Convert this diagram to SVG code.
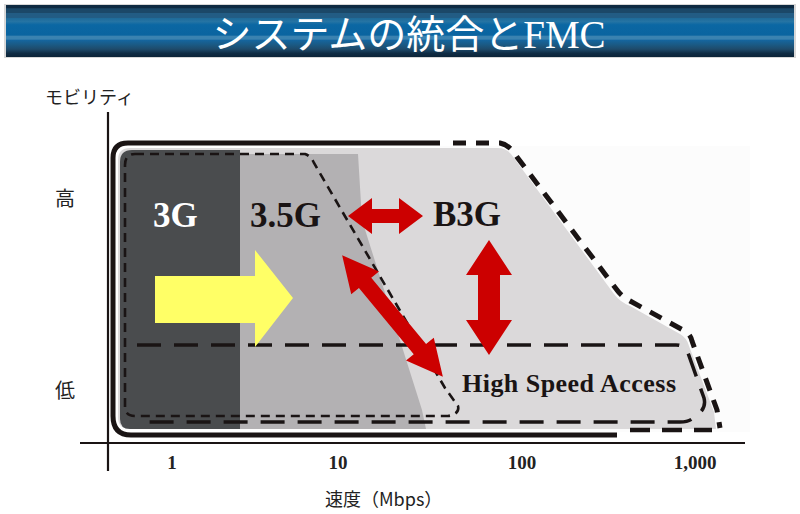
<svg xmlns="http://www.w3.org/2000/svg" width="800" height="514" viewBox="0 0 800 514">
<defs>
<linearGradient id="bar" x1="0" y1="0" x2="0" y2="1">
<stop offset="0" stop-color="#0e2a42"/>
<stop offset="0.06" stop-color="#0e2a42"/>
<stop offset="0.07" stop-color="#1b4868"/>
<stop offset="0.15" stop-color="#1b4868"/>
<stop offset="0.16" stop-color="#225c84"/>
<stop offset="0.24" stop-color="#225c84"/>
<stop offset="0.25" stop-color="#1e6a98"/>
<stop offset="0.32" stop-color="#2574a4"/>
<stop offset="0.38" stop-color="#0b67a3"/>
<stop offset="0.58" stop-color="#0a64a0"/>
<stop offset="0.6" stop-color="#3a82b0"/>
<stop offset="0.66" stop-color="#3a82b0"/>
<stop offset="0.67" stop-color="#1566a0"/>
<stop offset="0.76" stop-color="#1a5a85"/>
<stop offset="0.85" stop-color="#1e4a6a"/>
<stop offset="0.93" stop-color="#0f2c44"/>
<stop offset="1" stop-color="#0c2438"/>
</linearGradient>
</defs>
<style>
.lbl{font-family:"Liberation Serif","Times New Roman",serif;font-weight:bold}
.jp{font-family:"Noto Sans CJK JP",sans-serif;fill:#222}
.tick{font-family:"Liberation Serif",serif;font-weight:bold;font-size:19px;fill:#222;text-anchor:middle}
.red{fill:#cc0000}
.ax{stroke:#1a1414;stroke-width:2.2;fill:none}
</style>
<rect width="800" height="514" fill="#ffffff"/>
<g id="title">
<rect x="4" y="4" width="792" height="54" fill="#d8d8d8"/>
<rect x="6" y="5" width="788" height="52" fill="url(#bar)"/>
<text x="409" y="48" font-family="Liberation Serif,Noto Sans CJK JP,serif" font-size="39" fill="#ffffff" text-anchor="middle">システムの統合とFMC</text>
</g>
<g id="background">
<rect x="440" y="146" width="310" height="286" fill="#fcfcfc"/>
<path id="b3g-area" d="M118,160 Q118,148 130,148 L498,148 Q508,148 514,158 L614,294 Q620,302 630,306 L680,334 Q687,338 689,346 L714,412 L716,429 L130,429 Q118,429 118,417 Z" fill="#dbd9da"/>
<path id="g35-area" d="M240,154 L358,154 L362,220 L422,410 L426,429 L240,429 Z" fill="#b3b1b3"/>
<path id="g3-area" d="M132,150 L240,150 L240,429 L130,429 Q120,429 120,419 L120,162 Q120,150 132,150 Z" fill="#4a4c4e"/>
</g>
<g id="axes">
<line class="ax" x1="108" y1="112" x2="108" y2="471"/>
<line class="ax" x1="80" y1="443" x2="745" y2="443"/>
<text class="jp" x="45" y="104" font-size="18">モビリティ</text>
<text class="jp" x="65" y="206" font-size="20" text-anchor="middle">高</text>
<text class="jp" x="65" y="398" font-size="20" text-anchor="middle">低</text>
<text class="tick" x="172" y="469">1</text>
<text class="tick" x="338" y="469">10</text>
<text class="tick" x="522" y="469">100</text>
<text class="tick" x="695" y="469">1,000</text>
<text class="jp" x="325" y="506" font-size="18">速度（Mbps）</text>
</g>
<g id="node-b3g">
<path d="M440,143 H128 Q113,143 113,158 V416 Q113,435 131,435 H617" fill="none" stroke="#1a1414" stroke-width="5"/>
<path d="M453,143 L500,143 Q510,145 517,157 L617,290 Q622,297 632,302 L683,330 Q690,333 692,341 L717,410 L720,428" fill="none" stroke="#1a1414" stroke-width="5" stroke-dasharray="13,10"/>
<path d="M630,430 L712,430" fill="none" stroke="#1a1414" stroke-width="4.5" stroke-dasharray="20,12"/>
<text class="lbl" x="433" y="226" font-size="35" fill="#1a1414">B3G</text>
</g>
<g id="node-3-5g">
<path d="M135,154 L305,154 Q311,156 314,163 L445,388 L458,406 Q460,414 448,416 L135,416 Q125,416 125,406 L125,165 Q125,154 135,154 Z" fill="none" stroke="#1a1414" stroke-width="2.6" stroke-dasharray="9,6"/>
<text class="lbl" x="250" y="227" font-size="35" fill="#1a1414">3.5G</text>
</g>
<g id="node-3g">
<text class="lbl" x="153" y="227" font-size="35" fill="#ffffff">3G</text>
</g>
<g id="node-hsa">
<path d="M137,345 L676,345 Q685,345 688,353 L704,398 Q707,410 694,417 Q690,422 680,422 L137,422" fill="none" stroke="#1a1414" stroke-width="3.5" stroke-dasharray="24,13"/>
<text class="lbl" x="462" y="392" font-size="26" fill="#1a1414" textLength="214" lengthAdjust="spacing">High Speed Access</text>
</g>
<g id="connectors">
<polygon fill="#ffff66" points="155,276 255,276 255,250 293,298 255,347 255,323 155,323"/>
<polygon class="red" points="348,216 372,198 372,209 399,209 399,198 423,216 399,234 399,223 372,223 372,234"/>
<polygon class="red" points="489,240 512,275 500,275 500,320 512,320 489,355 466,320 478,320 478,275 466,275"/>
<polygon class="red" transform="translate(392.5,316) rotate(50.4)" points="-79,0 -43,-18 -43,-8 43,-8 43,-18 79,0 43,18 43,8 -43,8 -43,18"/>
</g>
</svg>
